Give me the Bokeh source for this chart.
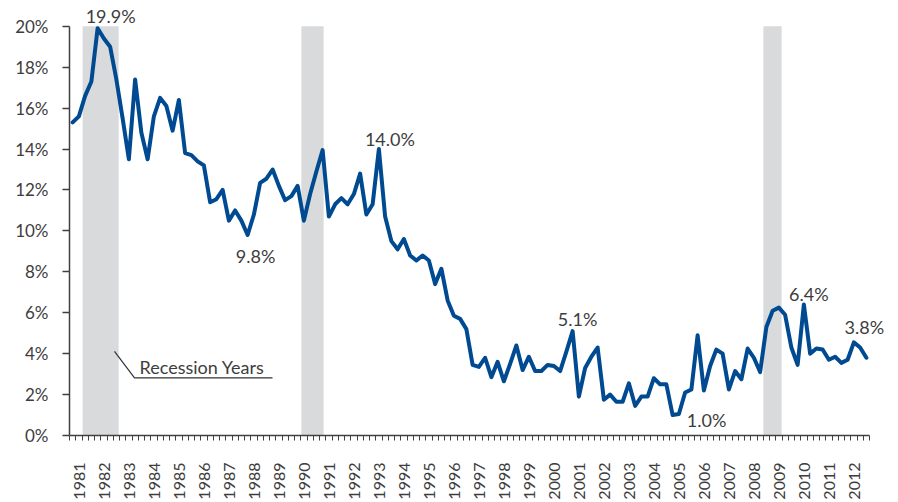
from math import pi
from bokeh.plotting import figure
from bokeh.models import Range1d, FixedTicker, PrintfTickFormatter, ColumnDataSource
from bokeh.core.properties import value
from bokeh.embed import file_html
from bokeh.resources import INLINE

# ---------------- data (quarterly, 1981 Q1 - 2012 Q4, %) ----------------
start_year = 1981
years = list(range(1981, 2013))
rates_1981_1988 = [15.3, 15.6, 16.6, 17.3, 19.9, 19.4, 19.0, 17.4,
                   15.5, 13.5, 17.4, 14.8, 13.5, 15.6, 16.5, 16.1,
                   14.9, 16.4, 13.8, 13.7, 13.4, 13.2, 11.4, 11.55,
                   12.0, 10.5, 11.0, 10.5, 9.8, 10.8, 12.35, 12.55]
rates_1989_1996 = [13.0, 12.2, 11.5, 11.7, 12.2, 10.5, 11.8, 12.9,
                   13.95, 10.7, 11.3, 11.6, 11.3, 11.8, 12.8, 10.8,
                   11.3, 14.0, 10.7, 9.5, 9.1, 9.6, 8.8, 8.55,
                   8.8, 8.55, 7.4, 8.15, 6.6, 5.85, 5.7, 5.2]
rates_1997_2004 = [3.45, 3.35, 3.8, 2.85, 3.6, 2.65, 3.5, 4.4,
                   3.2, 3.85, 3.15, 3.15, 3.45, 3.4, 3.15, 4.1,
                   5.1, 1.9, 3.3, 3.85, 4.3, 1.75, 2.0, 1.65,
                   1.65, 2.55, 1.45, 1.9, 1.9, 2.8, 2.5, 2.5]
rates_2005_2012 = [1.0, 1.05, 2.1, 2.25, 4.9, 2.2, 3.4, 4.2,
                   4.0, 2.25, 3.15, 2.75, 4.25, 3.8, 3.1, 5.3,
                   6.1, 6.25, 5.9, 4.3, 3.45, 6.4, 4.0, 4.25,
                   4.2, 3.7, 3.85, 3.55, 3.7, 4.55, 4.3, 3.8]

recession_start = [1981.40, 1990.15, 2008.63]
recession_end = [1982.84, 1991.04, 2009.36]

# annotated quarters (index into the series)
annotated_idx = [4, 28, 49, 80, 96, 117, 127]
y_ticks = list(range(0, 21, 2))

# ---------------- layout / style ----------------
rates = rates_1981_1988 + rates_1989_1996 + rates_1997_2004 + rates_2005_2012
quarters = [start_year + i / 4 for i in range(len(rates))]
x_lo = start_year - 0.125
x_hi = quarters[-1] + 0.125

TEXT = "#3d3d3d"
AXIS = "#404040"
FONT = "Lato"

p = figure(width=898, height=502, output_backend="svg", toolbar_location=None,
           x_range=Range1d(x_lo, x_lo + 827 / 25.0), y_range=Range1d(0, 21.26),
           min_border_left=69, min_border_right=2, min_border_top=0,
           min_border_bottom=64)
p.outline_line_color = None
p.grid.visible = False
p.background_fill_color = "white"

# recession bands
p.quad(left=recession_start, right=recession_end, bottom=0, top=20,
       fill_color="#d9dadc", line_color=None)

# main series
p.line(quarters, rates, line_color="#004a91", line_width=4,
       line_join="round", line_cap="round")

# value annotations
label_dx = [13, 8, 11, 5, 34, 5, -2]
label_dy = [-12, 21, -10, -12, 5, -11, -31]
ann = ColumnDataSource(dict(
    x=[quarters[i] for i in annotated_idx],
    y=[rates[i] for i in annotated_idx],
    t=["%.1f%%" % rates[i] for i in annotated_idx],
    dx=label_dx, dy=label_dy))
p.text(x="x", y="y", text="t", x_offset="dx", y_offset="dy", source=ann,
       text_align="center", text_baseline="alphabetic",
       text_font=value(FONT), text_font_size=value("18px"), text_color=TEXT)

# "Recession Years" callout
call_x0, call_y0 = 1982.675, 4.11
call_x1, call_y1 = 1983.475, 2.82
call_x2 = 1988.995
p.line([call_x0, call_x1, call_x2], [call_y0, call_y1, call_y1],
       line_color="#333333", line_width=1.2)
p.text(x=[call_x1 + 0.2], y=[call_y1], text=["Recession Years"], y_offset=-11,
       text_align="left", text_baseline="alphabetic",
       text_font=value(FONT), text_font_size=value("18px"), text_color=TEXT)

# y axis
ya = p.yaxis[0]
ya.ticker = FixedTicker(ticks=y_ticks)
ya.formatter = PrintfTickFormatter(format="%d%%")
ya.bounds = (0, 20)
ya.axis_line_color = AXIS
ya.axis_line_width = 1.5
ya.major_tick_line_color = AXIS
ya.major_tick_line_width = 1.5
ya.major_tick_out = 7
ya.major_tick_in = 0
ya.minor_tick_line_color = None
ya.major_label_standoff = 14
ya.major_label_text_font = FONT
ya.major_label_text_font_size = "17px"
ya.major_label_text_color = TEXT

# x axis
label_shift = 0.28
xa = p.xaxis[0]
major = [y + label_shift for y in years]
minor = [x_lo + k * 0.25 for k in range(len(rates) + 1)]
xa.ticker = FixedTicker(ticks=major, minor_ticks=minor)
xa.major_label_overrides = {m: str(y) for m, y in zip(major, years)}
xa.bounds = (x_lo, x_hi)
xa.axis_line_color = AXIS
xa.axis_line_width = 1.5
xa.major_tick_out = 0
xa.major_tick_in = 0
xa.major_tick_line_color = None
xa.minor_tick_line_color = AXIS
xa.minor_tick_line_width = 1
xa.minor_tick_out = 5
xa.minor_tick_in = 0
xa.major_label_orientation = pi / 2
xa.major_label_standoff = 22
xa.major_label_text_font = FONT
xa.major_label_text_font_size = "16px"
xa.major_label_text_color = TEXT

open("out.html", "w").write(file_html(p, INLINE))
